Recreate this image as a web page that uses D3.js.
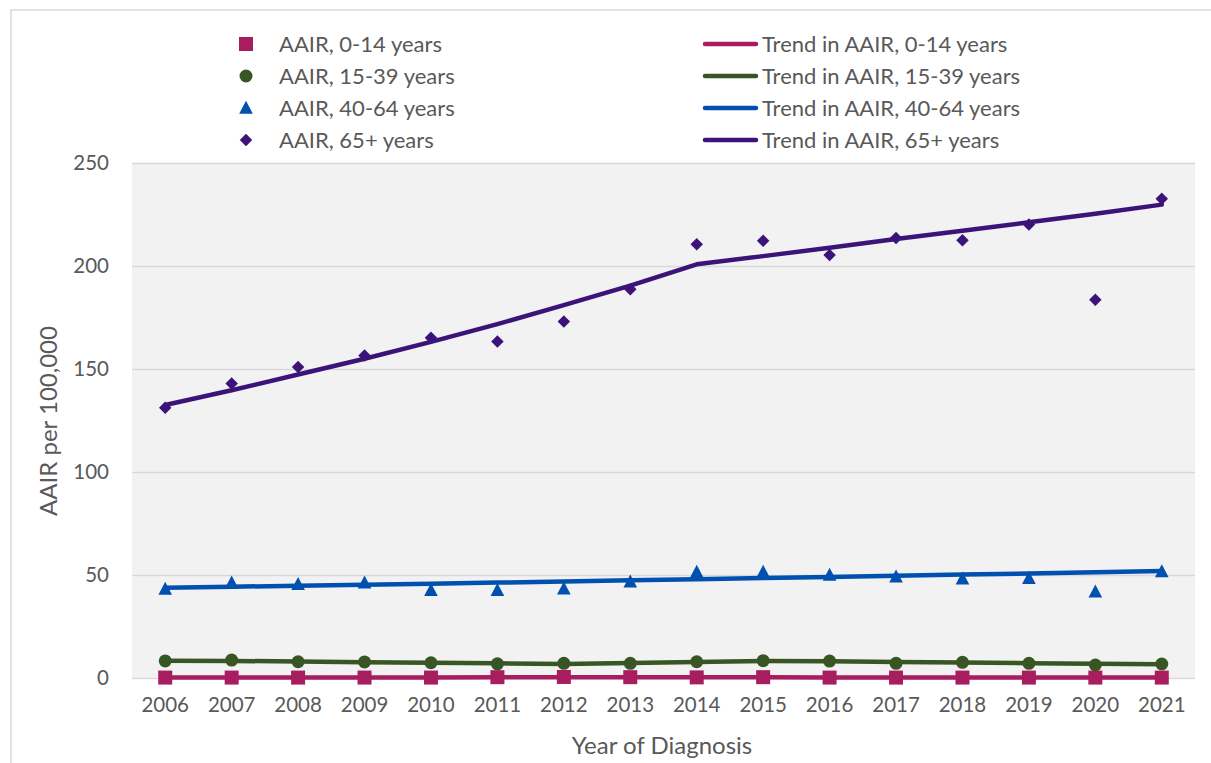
<!DOCTYPE html>
<html>
<head>
<meta charset="utf-8">
<script src="https://cdn.jsdelivr.net/npm/d3@7"></script>
<style>
  html, body { margin: 0; padding: 0; background: #ffffff; }
  svg { display: block; font-family: Lato, "Open Sans", sans-serif; }
</style>
</head>
<body>
<svg id="chart" width="1211" height="763"></svg>
<script>
// ---- data ----
const years = ["2006","2007","2008","2009","2010","2011","2012","2013","2014","2015","2016","2017","2018","2019","2020","2021"];
const yTicks = [0, 50, 100, 150, 200, 250];

const aair0_14   = [0.2, 0.2, 0.2, 0.2, 0.2, 0.4, 0.5, 0.4, 0.3, 0.4, 0.2, 0.2, 0.2, 0.2, 0.2, 0.2];
const trend0_14  = [0.2, 0.2, 0.2, 0.2, 0.2, 0.4, 0.4, 0.4, 0.4, 0.4, 0.2, 0.2, 0.2, 0.2, 0.2, 0.2];

const aair15_39  = [8.3, 8.7, 7.9, 7.8, 7.4, 6.9, 7.1, 7.1, 7.9, 8.4, 8.2, 7.1, 7.6, 7.1, 6.3, 6.8];
const trend15_39 = [8.4, 8.3, 8.0, 7.7, 7.4, 7.1, 6.8, 7.3, 7.8, 8.3, 8.1, 7.8, 7.5, 7.2, 6.9, 6.7];

const aair40_64  = [43.3, 46.3, 45.6, 46.3, 42.7, 42.7, 43.4, 46.8, 51.5, 51.5, 50.0, 49.2, 48.2, 48.5, 41.9, 51.8];
const trend40_64 = [43.8, 44.3, 44.8, 45.3, 45.8, 46.3, 46.9, 47.4, 47.9, 48.5, 49.0, 49.6, 50.2, 50.7, 51.3, 51.9];

const aair65     = [131.2, 143.0, 151.0, 156.5, 165.2, 163.4, 173.0, 188.7, 210.5, 212.3, 205.3, 213.6, 212.5, 220.2, 183.6, 232.7];
const trend65    = [132.5, 139.7, 147.3, 155.0, 163.2, 171.8, 181.0, 190.5, 200.8, 204.8, 208.9, 213.1, 217.1, 221.2, 225.4, 229.8];

const seriesNames = ["AAIR, 0-14 years", "AAIR, 15-39 years", "AAIR, 40-64 years", "AAIR, 65+ years"];
const trendNames  = ["Trend in AAIR, 0-14 years", "Trend in AAIR, 15-39 years", "Trend in AAIR, 40-64 years", "Trend in AAIR, 65+ years"];
const colors      = ["#a81c60", "#375623", "#0050b0", "#3c1479"];
const shapes      = ["square", "circle", "triangle", "diamond"];
const xTitle = "Year of Diagnosis";
const yTitle = "AAIR per 100,000";

// ---- layout ----
const svg = d3.select("#chart");
const plot = { left: 132, right: 1195, top: 163, bottom: 678 };
const textColor = "#595959";
const FONT = "Lato, 'Open Sans', sans-serif";

const x = d3.scaleBand().domain(years).range([plot.left, plot.right]).padding(0);
const y = d3.scaleLinear().domain([0, 250]).range([plot.bottom, plot.top]);
const cx = d => x(d) + x.bandwidth() / 2;

// outer chart border
svg.append("rect").attr("x", 11).attr("y", 10).attr("width", 1240).attr("height", 800)
  .attr("fill", "none").attr("stroke", "#d9d9d9").attr("stroke-width", 1.5);

// plot background
svg.append("rect").attr("x", plot.left).attr("y", plot.top)
  .attr("width", plot.right - plot.left).attr("height", plot.bottom - plot.top)
  .attr("fill", "#f2f2f2");

// gridlines + y tick labels
const yAxis = d3.axisLeft(y).tickValues(yTicks).tickSize(-(plot.right - plot.left)).tickPadding(23);
const gy = svg.append("g").attr("transform", `translate(${plot.left},0)`).call(yAxis);
gy.select(".domain").remove();
gy.selectAll(".tick line").attr("stroke", "#d9d9d9").attr("stroke-width", 1.5);
gy.selectAll(".tick text").attr("fill", textColor).style("font-size", "20.5px").style("font-family", FONT);

// x axis
const xAxis = d3.axisBottom(x).tickSize(0).tickPadding(19);
const gx = svg.append("g").attr("transform", `translate(0,${plot.bottom})`).call(xAxis);
gx.select(".domain").remove();
gx.selectAll(".tick text").attr("fill", textColor).style("font-size", "20.5px").style("font-family", FONT);

// axis titles
svg.append("text").attr("x", 662).attr("y", 754)
  .attr("text-anchor", "middle").attr("fill", textColor).style("font-size", "24px").text(xTitle);
svg.append("text").attr("transform", `translate(57,421) rotate(-90)`)
  .attr("text-anchor", "middle").attr("fill", textColor).style("font-size", "24px").text(yTitle);

// symbol generator
function symbolPath(shape, size) {
  switch (shape) {
    case "square":   return d3.symbol(d3.symbolSquare, size * size)();
    case "circle":   return d3.symbol(d3.symbolCircle, Math.PI * (size / 2) * (size / 2))();
    case "triangle": {
      const h = size, w = size * 1.05;
      return `M0,${-h * 0.55}L${w / 2},${h * 0.45}L${-w / 2},${h * 0.45}Z`;
    }
    case "diamond": {
      const r = size / 2;
      return `M0,${-r}L${r},0L0,${r}L${-r},0Z`;
    }
  }
}
const markerSize = [14, 13, 13, 12.5];

const markerData = [aair0_14, aair15_39, aair40_64, aair65];
const trendData  = [trend0_14, trend15_39, trend40_64, trend65];

// markers
markerData.forEach((vals, i) => {
  svg.append("g").selectAll("path").data(vals).join("path")
    .attr("d", symbolPath(shapes[i], markerSize[i]))
    .attr("transform", (d, j) => `translate(${cx(years[j])},${y(d)})`)
    .attr("fill", colors[i]);
});

// trend lines
const line = d3.line().x((d, j) => cx(years[j])).y(d => y(d));
trendData.forEach((vals, i) => {
  svg.append("path").datum(vals).attr("d", line)
    .attr("fill", "none").attr("stroke", colors[i]).attr("stroke-width", 4.5)
    .attr("stroke-linejoin", "round").attr("stroke-linecap", "round");
});

// legend
const legendRows = [44, 76, 108, 140];
seriesNames.forEach((name, i) => {
  svg.append("path").attr("d", symbolPath(shapes[i], markerSize[i]))
    .attr("transform", `translate(246,${legendRows[i]})`).attr("fill", colors[i]);
  svg.append("text").attr("x", 279).attr("y", legendRows[i]).attr("dy", "0.36em")
    .attr("fill", textColor).style("font-size", "22px").text(name);
});
trendNames.forEach((name, i) => {
  svg.append("line").attr("x1", 705).attr("x2", 756)
    .attr("y1", legendRows[i]).attr("y2", legendRows[i])
    .attr("stroke", colors[i]).attr("stroke-width", 4.5).attr("stroke-linecap", "round");
  svg.append("text").attr("x", 762).attr("y", legendRows[i]).attr("dy", "0.36em")
    .attr("fill", textColor).style("font-size", "22px").text(name);
});
</script>
</body>
</html>
